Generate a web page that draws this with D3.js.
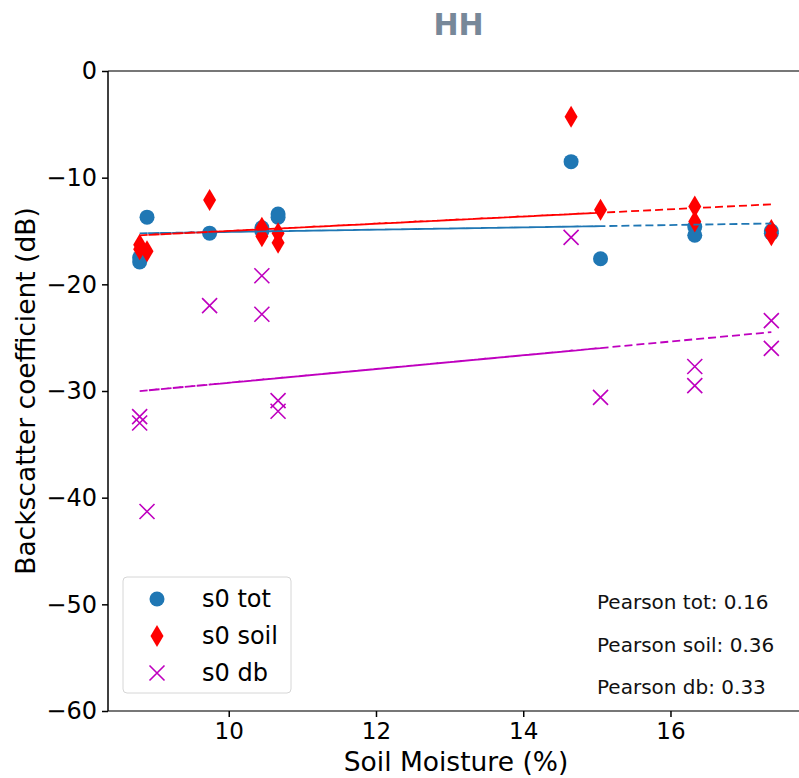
<!DOCTYPE html>
<html>
<head>
<meta charset="utf-8">
<script src="https://cdn.jsdelivr.net/npm/d3@7"></script>
<style>
  body { margin: 0; background: #fff; }
  svg { display: block; font-family: "DejaVu Sans", sans-serif; }
</style>
</head>
<body>
<div id="chart"></div>
<script>
// soil moisture (%) for each sample, in the order they were recorded
var moisture = [8.79, 8.79, 10.45, 8.89, 10.67, 9.74, 14.65, 10.45, 15.05, 10.67, 16.33, 16.33, 17.37, 17.37];
// backscatter (dB)
var s0Tot  = [-17.5, -17.9, -14.7, -13.7, -13.4, -15.2, -8.5, -15.0, -17.6, -13.7, -14.6, -15.4, -15.0, -15.2];
var s0Soil = [-16.3, -16.7, -14.7, -16.9, -15.2, -12.1, -4.3, -15.5, -13.0, -16.1, -12.7, -14.1, -14.9, -15.4];
var s0Db   = [-32.4, -33.0, -19.2, -41.3, -30.9, -22.0, -15.6, -22.8, -30.6, -31.9, -27.7, -29.5, -23.4, -26.0];
var seriesNames = ["s0 tot", "s0 soil", "s0 db"];
var pearsonLabels = ["Pearson tot: 0.16", "Pearson soil: 0.36", "Pearson db: 0.33"];
var xTicks = [10, 12, 14, 16];
var yTicks = [0, -10, -20, -30, -40, -50, -60];

var W = 799, H = 778;
var margin = {top: 71, left: 108, bottom: 67};
var plotRight = 803;

var svg = d3.select("#chart").append("svg")
  .attr("width", W)
  .attr("height", H);

var x = d3.scaleLinear().domain([8.36, 17.8]).range([margin.left, plotRight]);
var y = d3.scaleLinear().domain([-60, 0]).range([H - margin.bottom, margin.top]);

// title
svg.append("text")
  .attr("x", (margin.left + plotRight) / 2 + 3)
  .attr("y", 35)
  .attr("text-anchor", "middle")
  .attr("font-size", 30)
  .attr("font-weight", "bold")
  .attr("fill", "#778899")
  .text("HH");

// top frame line (gray)
svg.append("line")
  .attr("x1", margin.left).attr("x2", W)
  .attr("y1", y(0)).attr("y2", y(0))
  .attr("stroke", "#777").attr("stroke-width", 2);

var xAxis = svg.append("g")
  .attr("transform", "translate(0," + y(-60) + ")")
  .call(d3.axisBottom(x).tickValues(xTicks).tickSize(6).tickPadding(6).tickFormat(d3.format("d")));
xAxis.select(".domain").attr("stroke", "#777").attr("stroke-width", 2)
  .attr("d", "M" + margin.left + ",0H" + W);
xAxis.selectAll(".tick line").attr("stroke", "#000").attr("stroke-width", 1.5);
xAxis.selectAll("text").attr("font-size", 23).attr("fill", "#000")
  .attr("font-family", "DejaVu Sans");

var yAxis = svg.append("g")
  .attr("transform", "translate(" + margin.left + ",0)")
  .call(d3.axisLeft(y).tickValues(yTicks).tickSize(6).tickPadding(5)
    .tickFormat(function(d) { return d < 0 ? "\u2212" + Math.abs(d) : d; }));
yAxis.select(".domain").attr("stroke", "#000").attr("stroke-width", 1.5)
  .attr("d", "M0," + y(0) + "V" + y(-60));
yAxis.selectAll(".tick line").attr("stroke", "#000").attr("stroke-width", 1.5);
yAxis.selectAll("text").attr("font-size", 24).attr("fill", "#000")
  .attr("font-family", "DejaVu Sans");

// axis labels
svg.append("text")
  .attr("x", 456)
  .attr("y", 771)
  .attr("text-anchor", "middle")
  .attr("font-size", 26.5)
  .text("Soil Moisture (%)");

svg.append("text")
  .attr("transform", "translate(35," + y(-30) + ") rotate(-90)")
  .attr("text-anchor", "middle")
  .attr("font-size", 26.5)
  .text("Backscatter coefficient (dB)");

var plot = svg.append("g");

function pts(vals) {
  return vals.map(function(v, i) { return {x: moisture[i], y: v}; });
}

var circleColor = "#1f77b4", diamondColor = "#ff0000", crossColor = "#bf00bf";

// s0 tot circles
plot.append("g").selectAll("circle").data(pts(s0Tot)).enter().append("circle")
  .attr("cx", function(d) { return x(d.x); })
  .attr("cy", function(d) { return y(d.y); })
  .attr("r", 7.5)
  .attr("fill", circleColor);

// s0 soil thin diamonds
function diamond(cx, cy) {
  return "M" + cx + "," + (cy - 11) + "L" + (cx + 6.5) + "," + cy +
         "L" + cx + "," + (cy + 11) + "L" + (cx - 6.5) + "," + cy + "Z";
}
plot.append("g").selectAll("path").data(pts(s0Soil)).enter().append("path")
  .attr("d", function(d) { return diamond(x(d.x), y(d.y)); })
  .attr("fill", diamondColor);

// s0 db crosses
function cross(cx, cy) {
  var s = 7.5;
  return "M" + (cx - s) + "," + (cy - s) + "L" + (cx + s) + "," + (cy + s) +
         "M" + (cx - s) + "," + (cy + s) + "L" + (cx + s) + "," + (cy - s);
}
plot.append("g").selectAll("path").data(pts(s0Db)).enter().append("path")
  .attr("d", function(d) { return cross(x(d.x), y(d.y)); })
  .attr("stroke", crossColor)
  .attr("stroke-width", 1.6)
  .attr("fill", "none");

// least squares fit, drawn through the samples in recorded order
function fit(vals) {
  var mx = d3.mean(moisture), my = d3.mean(vals);
  var num = d3.sum(moisture, function(v, i) { return (v - mx) * (vals[i] - my); });
  var den = d3.sum(moisture, function(v) { return (v - mx) * (v - mx); });
  var b = num / den, a = my - b * mx;
  return moisture.map(function(v) { return {x: v, y: a + b * v}; });
}

var line = d3.line().x(function(d) { return x(d.x); }).y(function(d) { return y(d.y); });

[[s0Tot, circleColor], [s0Soil, diamondColor], [s0Db, crossColor]].forEach(function(s) {
  plot.append("path")
    .attr("d", line(fit(s[0])))
    .attr("fill", "none")
    .attr("stroke", s[1])
    .attr("stroke-width", 1.8)
    .attr("stroke-dasharray", "8,4");
});

// legend
var legend = svg.append("g").attr("transform", "translate(123,577)");
legend.append("rect")
  .attr("width", 168).attr("height", 116)
  .attr("rx", 4)
  .attr("fill", "#fff").attr("fill-opacity", 0.8)
  .attr("stroke", "#d6d6d6");
var rowY = [22, 59, 96];
legend.append("circle").attr("cx", 34).attr("cy", rowY[0]).attr("r", 7.5).attr("fill", circleColor);
legend.append("path").attr("d", diamond(34, rowY[1])).attr("fill", diamondColor);
legend.append("path").attr("d", cross(34, rowY[2])).attr("stroke", crossColor)
  .attr("stroke-width", 1.6).attr("fill", "none");
legend.selectAll("text.lbl").data(seriesNames).enter().append("text")
  .attr("class", "lbl")
  .attr("x", 79)
  .attr("y", function(d, i) { return rowY[i] + 8; })
  .attr("font-size", 24)
  .text(function(d) { return d; });

// pearson annotations
svg.selectAll("text.pearson").data(pearsonLabels).enter().append("text")
  .attr("class", "pearson")
  .attr("x", 597)
  .attr("y", function(d, i) { return 609 + i * 42.5; })
  .attr("font-size", 20)
  .attr("fill", "#111")
  .text(function(d) { return d; });
</script>
</body>
</html>
